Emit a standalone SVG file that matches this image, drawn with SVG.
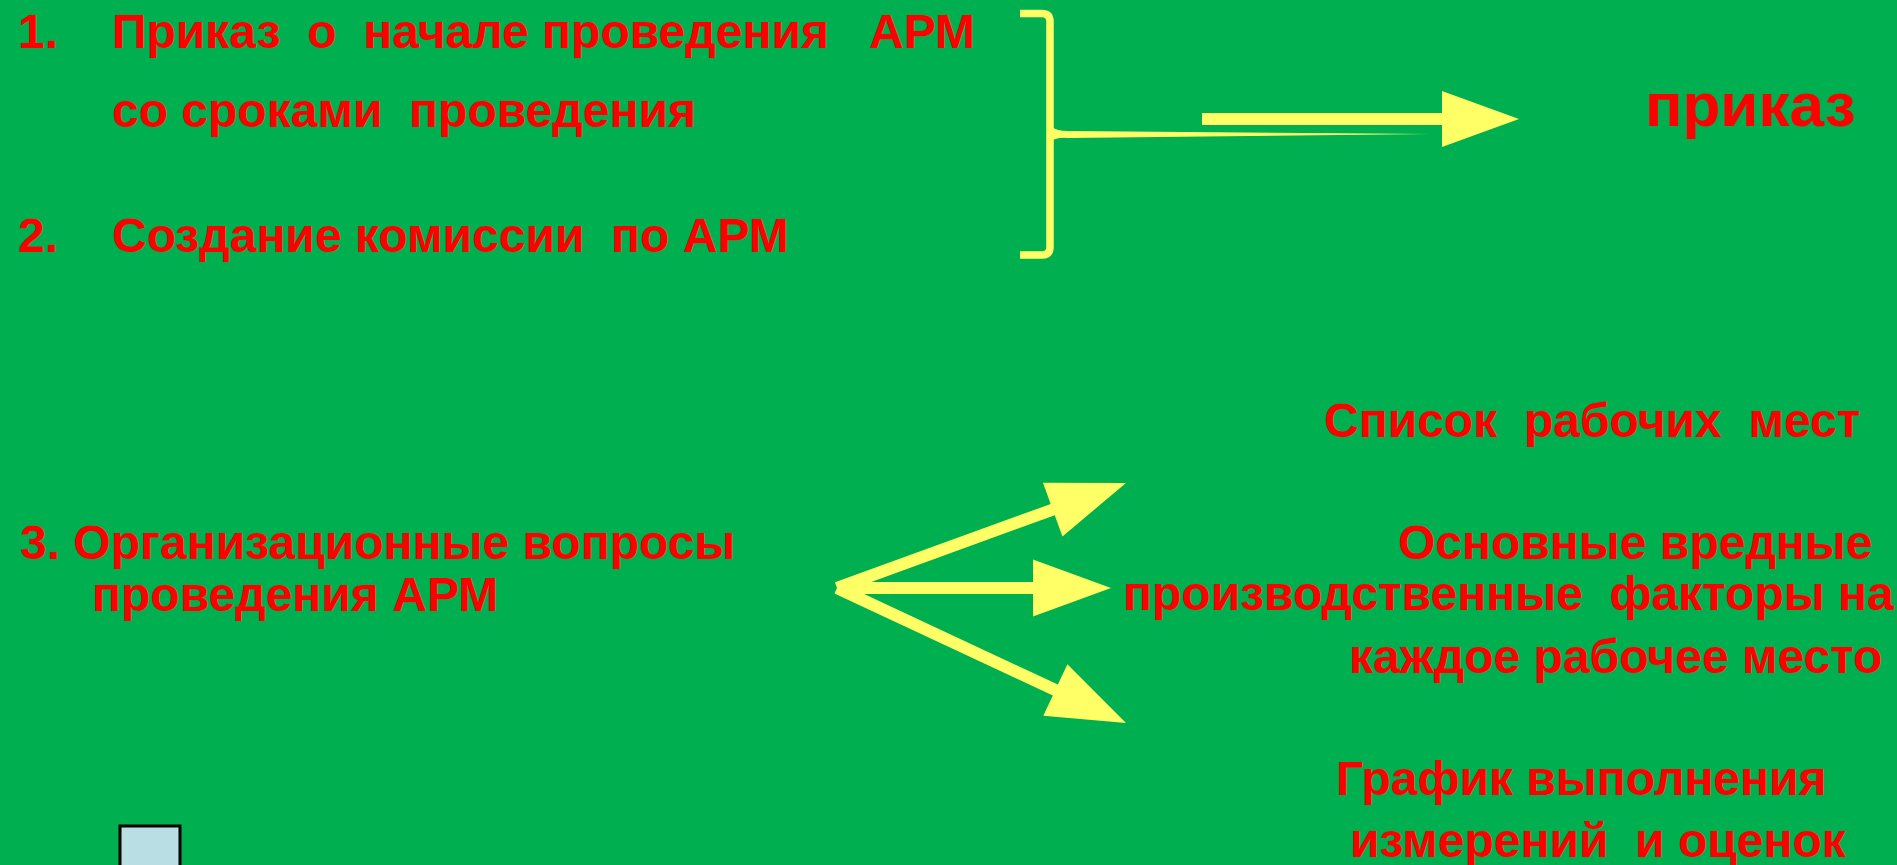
<svg xmlns="http://www.w3.org/2000/svg" width="1897" height="865" viewBox="0 0 1897 865">
<defs>
<style>
.t{font-family:"Liberation Sans",Arial,sans-serif;font-weight:bold;font-size:48px;fill:#FF0000;white-space:pre}
.y{fill:#FFFF66}
</style>
</defs>
<rect x="0" y="0" width="1897" height="865" fill="#00B050"/>
<g id="item1">
<text class="t" x="18" y="48" xml:space="preserve">1.</text>
<text class="t" x="112" y="48" xml:space="preserve">Приказ  о  начале проведения   АРМ</text>
<text class="t" x="112" y="127" xml:space="preserve">со сроками  проведения</text>
</g>
<g id="item2">
<text class="t" x="18" y="252" xml:space="preserve">2.</text>
<text class="t" x="112" y="252" xml:space="preserve">Создание комиссии  по АРМ</text>
</g>
<g id="item3">
<text class="t" x="20" y="559" xml:space="preserve">3. Организационные вопросы</text>
<text class="t" x="92" y="611" xml:space="preserve">проведения АРМ</text>
</g>
<g id="prikaz">
<text class="t" x="1645" y="126" style="font-size:62px" xml:space="preserve">приказ</text>
</g>
<g id="spisok">
<text class="t" x="1324" y="437" xml:space="preserve">Список  рабочих  мест</text>
</g>
<g id="faktory">
<text class="t" x="1398" y="559" xml:space="preserve">Основные вредные</text>
<text class="t" x="1123" y="610" xml:space="preserve">производственные  факторы на</text>
<text class="t" x="1349" y="673" xml:space="preserve">каждое рабочее место</text>
</g>
<g id="grafik">
<text class="t" x="1336" y="795" xml:space="preserve">График выполнения</text>
<text class="t" x="1350" y="857" xml:space="preserve">измерений  и оценок</text>
</g>
<g id="square">
<rect x="120" y="826" width="60" height="50" fill="#B9DEE3" stroke="#000000" stroke-width="3"/>
</g>
<g id="connectors">
<path d="M1020,13.5 H1042 Q1050,13.5 1050,21.5 V247 Q1050,255 1042,255 H1020" fill="none" stroke="#FFFF66" stroke-width="7.5"/>
<path class="y" d="M1050,126 Q1056,131 1068,131 L1430,134 L1068,138 Q1056,137 1050,142 Q1046,134 1050,126 Z"/>
<polygon class="y" points="1202,113 1442,113 1442,91 1519,119 1442,147 1442,125 1202,125"/>
<g transform="translate(837,588) rotate(-19.97)">
<polygon class="y" points="0,-6 229.5,-6 229.5,-28.5 307.5,0 229.5,28.5 229.5,6 0,6"/>
</g>
<g transform="translate(837,588)">
<polygon class="y" points="0,-6 196,-6 196,-28.5 274,0 196,28.5 196,6 0,6"/>
</g>
<g transform="translate(837,588) rotate(25.04)">
<polygon class="y" points="0,-6 241,-6 241,-28.5 319,0 241,28.5 241,6 0,6"/>
</g>
</g>
</svg>
